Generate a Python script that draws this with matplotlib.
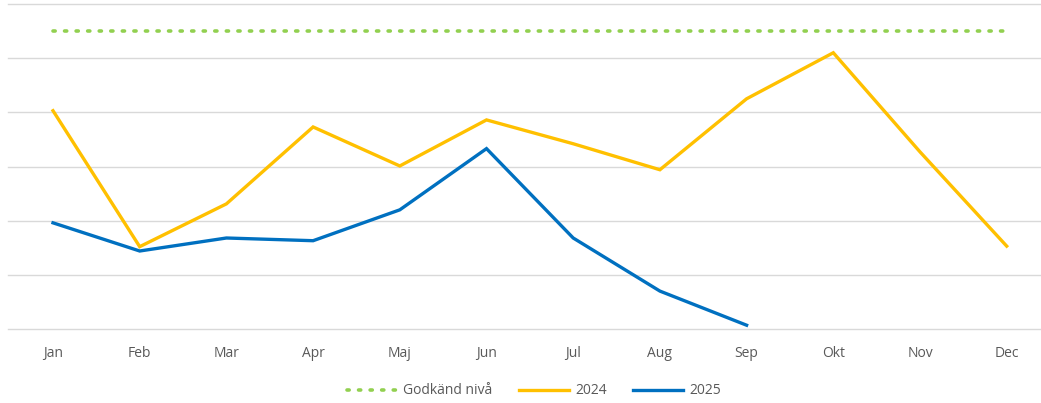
import matplotlib
matplotlib.use("Agg")
import matplotlib.pyplot as plt

months = ["Jan", "Feb", "Mar", "Apr", "Maj", "Jun", "Jul", "Aug", "Sep", "Okt", "Nov", "Dec"]
godkand = [5.51] * 12
y2024 = [4.03, 1.52, 2.31, 3.73, 3.01, 3.86, 3.42, 2.94, 4.25, 5.10, 3.27, 1.53]
y2025 = [1.96, 1.44, 1.68, 1.63, 2.20, 3.33, 1.68, 0.70, 0.07]

plt.rcParams['font.family'] = ['Open Sans', 'DejaVu Sans']

fig = plt.figure(figsize=(10.41, 4.03), dpi=100)
W, H = 1041, 403
ax = fig.add_axes([8 / W, (H - 329) / H, (1041 - 8) / W, (329 - 4) / H])

x = list(range(12))
ax.plot(x, godkand, color="#92D050", linestyle=(0, (0.6, 2.6)), linewidth=2.6,
        dash_capstyle="round", label="Godkänd nivå")
ax.plot(x, y2024, color="#FFC000", linewidth=2.4, label="2024", solid_joinstyle="miter")
ax.plot(x[:len(y2025)], y2025, color="#0070C0", linewidth=2.4, label="2025", solid_joinstyle="miter")

ax.set_ylim(0, 6)
ax.set_xlim((8 - 53) / 86.7, (1041 - 53) / 86.7)
ax.set_yticks(range(7))
ax.set_yticklabels([])
ax.grid(axis="y", color="#D9D9D9", linewidth=1)
for gl in ax.get_ygridlines():
    gl.set_clip_on(False)
ax.set_axisbelow(True)
ax.set_xticks(x)
ax.set_xticklabels(months, color="#595959", fontsize=10)
ax.tick_params(axis="both", length=0)
ax.tick_params(axis="x", pad=12)
for s in ax.spines.values():
    s.set_visible(False)

fig.legend(loc="center", bbox_to_anchor=(534 / W, 1 - 391 / H), ncol=3, frameon=False,
           fontsize=10, labelcolor="#595959", handlelength=3.6, columnspacing=1.9,
           handletextpad=0.45)

fig.savefig("out.png", dpi=100)
